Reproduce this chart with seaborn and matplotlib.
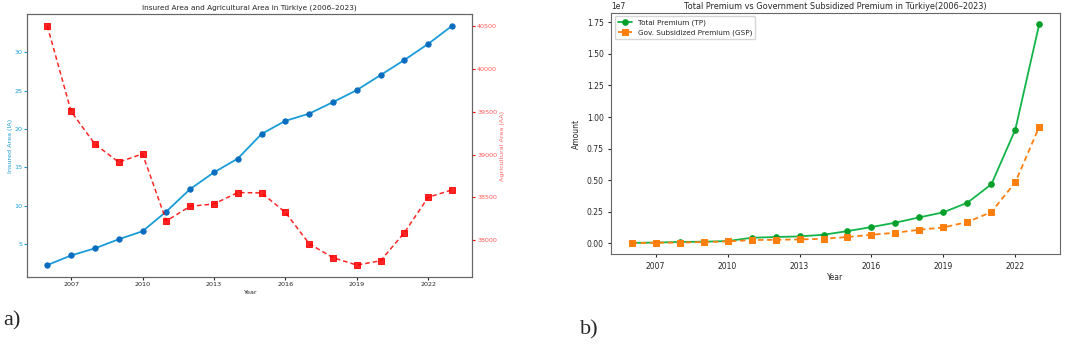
import matplotlib
matplotlib.use("Agg")
import matplotlib.pyplot as plt
import seaborn as sns
import pandas as pd

# data
years = list(range(2006, 2024))
insured_area = [2.25, 3.5, 4.43, 5.61, 6.66, 9.23, 12.16, 14.34, 16.13, 19.35,
                21.06, 22.0, 23.5, 25.07, 27.03, 29.0, 31.1, 33.45]
agri_area = [40500, 39503, 39122, 38911, 39008, 38226, 38397, 38424, 38557, 38553,
             38327, 37961, 37798, 37712, 37762, 38090, 38502, 38588]
total_premium = [0.02e6, 0.04e6, 0.09e6, 0.11e6, 0.16e6, 0.42e6, 0.48e6, 0.53e6, 0.66e6, 0.95e6,
                 1.27e6, 1.62e6, 2.04e6, 2.44e6, 3.20e6, 4.66e6, 9.00e6, 17.39e6]
gov_premium = [0.00e6, 0.03e6, 0.04e6, 0.08e6, 0.13e6, 0.24e6, 0.26e6, 0.29e6, 0.34e6, 0.48e6,
               0.66e6, 0.82e6, 1.06e6, 1.24e6, 1.67e6, 2.46e6, 4.82e6, 9.24e6]
xticks = [2007, 2010, 2013, 2016, 2019, 2022]
ia_ticks = [5, 10, 15, 20, 25, 30]
aa_ticks = [38000, 38500, 39000, 39500, 40000, 40500]

df = pd.DataFrame({"Year": years, "IA": insured_area, "AA": agri_area,
                   "TP": total_premium, "GSP": gov_premium})

sns.set_style("ticks")
plt.rcParams["font.family"] = ["DejaVu Sans"]

fig = plt.figure(figsize=(10.65, 3.48), dpi=100)
ax1 = fig.add_axes([0.0254, 0.204, 0.418, 0.756])
ax3 = fig.add_axes([0.574, 0.270, 0.421, 0.693])

blue = "#1a9cd8"
red = "red"
fs = 4.6

# a) insured area vs agricultural area
sns.lineplot(data=df, x="Year", y="IA", ax=ax1, color=blue, marker="o",
             markersize=3.8, markerfacecolor="#0a6cbf", markeredgecolor="#0a6cbf",
             linewidth=1.3)
ax1.set_ylabel("Insured Area (IA)", color=blue, fontsize=fs, labelpad=1)
ax1.set_yticks(ia_ticks)
ax1.tick_params(axis="y", colors=blue, labelsize=fs, length=2, pad=1.5)
ax1.tick_params(axis="x", labelsize=fs, length=2, pad=1.5)
ax1.set_xticks(xticks)
ax1.set_xlabel("Year", fontsize=fs, labelpad=2)
ax1.set_title("Insured Area and Agricultural Area in Türkiye (2006–2023)", fontsize=5.3, pad=3)

ax2 = ax1.twinx()
sns.lineplot(data=df, x="Year", y="AA", ax=ax2, color=red, marker="s",
             markersize=3.8, markeredgecolor=red, linestyle=(0, (3, 2)), linewidth=1.1,
             alpha=0.85)
ax2.set_ylabel("Agricultural Area (AA)", color=(1, 0.4, 0.4), fontsize=fs, labelpad=2)
ax2.set_yticks(aa_ticks)
ax2.tick_params(axis="y", colors=red, labelsize=fs, length=2, pad=1.5,
                labelcolor=(1, 0.35, 0.35))

for a in (ax1, ax2):
    for s in a.spines.values():
        s.set_color("#666666")

# b) total premium vs government subsidized premium
sns.lineplot(data=df, x="Year", y="TP", ax=ax3, color="#13b54a", marker="o",
             markersize=4, markerfacecolor="#05a02a", markeredgecolor="#05a02a",
             linewidth=1.3, label="Total Premium (TP)")
sns.lineplot(data=df, x="Year", y="GSP", ax=ax3, color="#ff7f0e", marker="s",
             markersize=4, markeredgecolor="#ff7f0e", linestyle=(0, (3, 2)),
             linewidth=1.3, label="Gov. Subsidized Premium (GSP)")
ax3.set_xticks(xticks)
ax3.set_xlabel("Year", fontsize=5.5, labelpad=2)
ax3.set_ylabel("Amount", fontsize=5.5)
ax3.tick_params(labelsize=5.5, length=2)
ax3.yaxis.get_offset_text().set_fontsize(5.5)
ax3.set_title("Total Premium vs Government Subsidized Premium in Türkiye(2006–2023)",
              fontsize=5.9, pad=3)
ax3.legend(loc="upper left", fontsize=5.2, frameon=True)
for s in ax3.spines.values():
    s.set_color("#666666")

fig.text(0.003, 0.065, "a)", fontsize=16, family="Liberation Serif")
fig.text(0.545, 0.04, "b)", fontsize=16, family="Liberation Serif")

fig.savefig("out.png", dpi=100)
